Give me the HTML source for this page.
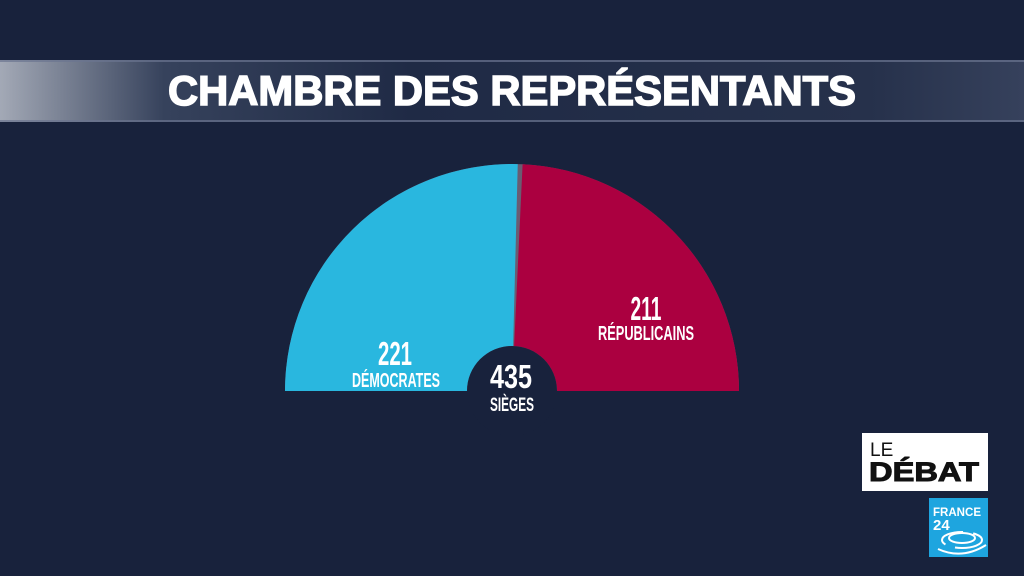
<!DOCTYPE html>
<html><head><meta charset="utf-8"><style>
html,body{margin:0;padding:0;background:#18223c;}
svg{display:block}
text{font-family:"Liberation Sans Narrow","Liberation Sans",sans-serif;fill:#fff;font-weight:bold}
</style></head><body>
<svg width="1024" height="576" viewBox="0 0 1024 576" xmlns="http://www.w3.org/2000/svg">
<defs>
<linearGradient id="bar" x1="0" x2="1" y1="0" y2="0">
<stop offset="0" stop-color="#a3a9b6"/>
<stop offset="0.16" stop-color="#36425c"/>
<stop offset="0.4" stop-color="#1f2a45"/>
<stop offset="0.85" stop-color="#26314b"/>
<stop offset="1" stop-color="#36415c"/>
</linearGradient>
</defs>
<rect width="1024" height="576" fill="#18223c"/>
<rect x="0" y="60" width="1024" height="62" fill="url(#bar)"/>
<rect x="0" y="60" width="1024" height="2" fill="#6b7590" opacity="0.7"/>
<rect x="0" y="120" width="1024" height="2" fill="#6b7590" opacity="0.7"/>
<text x="512" y="105" text-anchor="middle" font-size="42" textLength="688" lengthAdjust="spacingAndGlyphs" stroke="#fff" stroke-width="1.5" style="font-family:'Liberation Sans',sans-serif">CHAMBRE DES REPRÉSENTANTS</text>

<path d="M285 391 A227 227 0 0 1 739 391 Z" fill="#6a5c72"/>
<path d="M285 391 A227 227 0 0 1 517.75 164.1 L513.14 346 A45 45 0 0 0 467 391 Z" fill="#29b7df"/>
<path d="M522.6 164.2 A227 227 0 0 1 739 391 L557 391 A45 45 0 0 0 514.1 346.05 Z" fill="#ab0040"/>
<circle cx="512" cy="391" r="45" fill="#18223c"/>
<rect x="280" y="391" width="470" height="10" fill="#18223c"/>

<text x="395" y="365" text-anchor="middle" font-size="33" textLength="34" lengthAdjust="spacingAndGlyphs">221</text>
<text x="396" y="387" text-anchor="middle" font-size="20" textLength="88" lengthAdjust="spacingAndGlyphs">DÉMOCRATES</text>
<text x="646" y="320" text-anchor="middle" font-size="33" textLength="31" lengthAdjust="spacingAndGlyphs">211</text>
<text x="646" y="340" text-anchor="middle" font-size="20" textLength="96" lengthAdjust="spacingAndGlyphs">RÉPUBLICAINS</text>
<text x="511" y="388" text-anchor="middle" font-size="33" textLength="42" lengthAdjust="spacingAndGlyphs">435</text>
<text x="512" y="411" text-anchor="middle" font-size="19" textLength="44" lengthAdjust="spacingAndGlyphs">SIÈGES</text>

<rect x="862" y="433" width="126" height="58" fill="#fff"/>
<text x="870" y="456" font-size="19" style="fill:#111;font-weight:normal;font-family:'Liberation Sans',sans-serif">LE</text>
<text x="869" y="481" font-size="27" textLength="110" lengthAdjust="spacingAndGlyphs" stroke="#111" stroke-width="1" style="fill:#111;font-family:'Liberation Sans',sans-serif">DÉBAT</text>

<rect x="929" y="498" width="59" height="59" fill="#1ea5df"/>
<text x="933" y="516" font-size="12" textLength="48" lengthAdjust="spacingAndGlyphs" style="font-family:'Liberation Sans',sans-serif">FRANCE</text>
<text x="933" y="530" font-size="15" style="font-family:'Liberation Sans',sans-serif">24</text>
<g fill="none" stroke="#fff" stroke-width="2">
<ellipse cx="962" cy="538" rx="13" ry="5"/>
<ellipse cx="962" cy="540" rx="20" ry="8" stroke-dasharray="30 10"/>
<path d="M938 549 Q962 560 986 545"/>
</g>
</svg>
</body></html>
